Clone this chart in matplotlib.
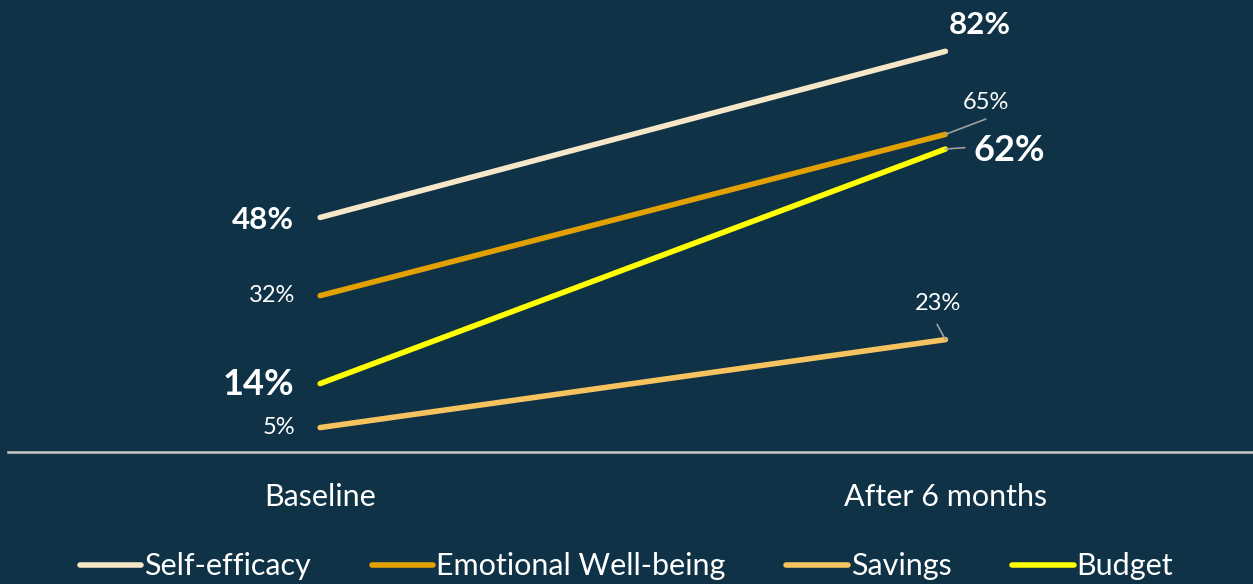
import numpy as np
import matplotlib.pyplot as plt

plt.rcParams['font.family'] = ['Lato', 'DejaVu Sans']

periods = ['Baseline', 'After 6 months']
series = ['Self-efficacy', 'Emotional Well-being', 'Savings', 'Budget']
self_efficacy = [48, 82]
emotional = [32, 65]
savings = [5, 23]
budget = [14, 62]

bg = '#0f3246'
colors = {'Self-efficacy': '#f6e7c9', 'Emotional Well-being': '#e2a100',
          'Savings': '#f7c35f', 'Budget': '#ffff00'}
values = {'Self-efficacy': self_efficacy, 'Emotional Well-being': emotional,
          'Savings': savings, 'Budget': budget}

fig = plt.figure(figsize=(12.53, 5.84), dpi=100, facecolor=bg)
ax = fig.add_axes([0.006, 0.226, 0.998, 0.774])
ax.set_facecolor(bg)

x = np.arange(len(periods))
for name in series:
    ax.plot(x, values[name], color=colors[name], lw=4,
            solid_capstyle='round', label=name)

ax.set_xlim(-0.5, 1.5)
ax.set_ylim(0, 92.5)
ax.set_xticks(x)
ax.set_xticklabels(periods, fontsize=22, color='white')
ax.tick_params(axis='x', length=0, pad=22)
ax.set_yticks([])
for s in ['top', 'right', 'left']:
    ax.spines[s].set_visible(False)
ax.spines['bottom'].set_color('#c8c8c8')
ax.spines['bottom'].set_linewidth(1.8)

# value labels at both ends
def label(xi, yi, txt, dx, dy, size, bold, ha='center', leader=None):
    ax.annotate(txt, (xi, yi), xytext=(dx, dy), textcoords='offset points',
                ha=ha, va='center', fontsize=size, color='white',
                fontweight='bold' if bold else 'normal')
    if leader is not None:
        ax.annotate('', (xi, yi), xytext=leader, textcoords='offset points',
                    arrowprops=dict(arrowstyle='-', color='#a0a0a0', lw=1.2,
                                    shrinkA=0, shrinkB=0))

label(0, self_efficacy[0], f'{self_efficacy[0]}%', -19, -2, 22.5, True, ha='right')
label(0, emotional[0], f'{emotional[0]}%', -18, 0, 17, False, ha='right')
label(0, budget[0], f'{budget[0]}%', -19, -1, 26, True, ha='right')
label(0, savings[0], f'{savings[0]}%', -18, 0, 17, False, ha='right')

label(1, self_efficacy[1], f'{self_efficacy[1]}%', 25, 19, 22.5, True)
label(1, emotional[1], f'{emotional[1]}%', 29, 23, 17, False, leader=(29, 11))
label(1, budget[1], f'{budget[1]}%', 46, -1, 26, True, leader=(14, 1))
label(1, savings[1], f'{savings[1]}%', -5, 26, 17, False, leader=(-6, 11))

fig.legend(loc='center', bbox_to_anchor=(0.5, 0.03), ncol=4, frameon=False,
           fontsize=22, labelcolor='white', handlelength=2.0,
           handletextpad=0.1, columnspacing=2.0)

fig.savefig('out.png', dpi=100, facecolor=bg)
